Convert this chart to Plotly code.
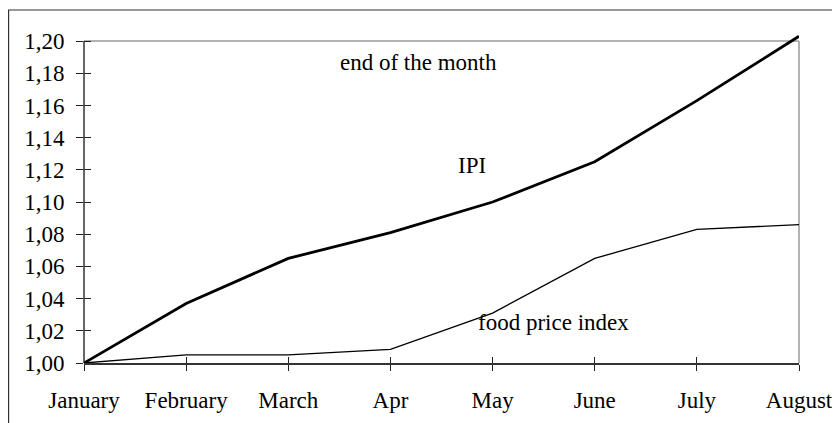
import plotly.graph_objects as go

months = ["January", "February", "March", "Apr", "May", "June", "July", "August"]
ipi = [1.000, 1.037, 1.065, 1.081, 1.100, 1.125, 1.163, 1.203]
food_price_index = [1.000, 1.005, 1.005, 1.0085, 1.031, 1.065, 1.083, 1.086]

FONT = "'Liberation Serif', 'Times New Roman', Times, serif"
FS = 23
YMIN, YTOP, YMAX = 1.00, 1.20, 1.21

# figure is placed by the page with an 8px body margin
W, H = 832, 415
ML, MR, MT, MB = 76, 41, 17, 60
PW, PH = W - ML - MR, H - MT - MB

fig = go.Figure()
fig.add_trace(go.Scatter(x=months, y=ipi, mode="lines", name="IPI",
                         line=dict(color="#000000", width=2.8), xaxis="x", yaxis="y"))
fig.add_trace(go.Scatter(x=months, y=food_price_index, mode="lines", name="food price index",
                         line=dict(color="#000000", width=1.3), xaxis="x2", yaxis="y2"))

common_x = dict(type="category", categoryarray=months, categoryorder="array",
                range=[0, len(months) - 1], showgrid=False, zeroline=False, automargin=False,
                tickcolor="#222222", tickwidth=1.2, ticklen=6)
common_y = dict(range=[YMIN, YMAX], tick0=1.0, dtick=0.02, showgrid=False, zeroline=False,
                automargin=False, tickcolor="#222222", tickwidth=1.2, ticklen=7)

fig.update_layout(
    width=W, height=H,
    margin=dict(l=ML, r=MR, t=MT, b=MB),
    paper_bgcolor="white", plot_bgcolor="white",
    showlegend=False,
    separators=", ",
    font=dict(family=FONT, size=FS, color="#000000"),
    xaxis=dict(**common_x, ticks="outside", showline=True, linecolor="#333333", linewidth=1.5,
               tickfont=dict(family=FONT, size=FS, color="#000000"), ticklabelstandoff=10),
    yaxis=dict(**common_y, ticks="outside", showline=False, tickformat=".2f",
               tickfont=dict(family=FONT, size=FS, color="#000000"), ticklabelstandoff=7),
    xaxis2=dict(**common_x, ticks="inside", overlaying="x", anchor="y2", showticklabels=False,
                showline=False),
    yaxis2=dict(**common_y, ticks="inside", overlaying="y", anchor="x2", showticklabels=False,
                showline=False, tickvals=[1.00 + 0.02 * i for i in range(11)]),
    shapes=[
        # outer chart-area border (left and top edges visible)
        dict(type="rect", xref="paper", yref="paper", x0=(0.6 - ML) / PW, x1=1.2,
             y0=-0.4, y1=(H - MB - 2) / PH, line=dict(color="#333333", width=1.2),
             fillcolor="rgba(0,0,0,0)", layer="below"),
        # plot-area border: top and right in grey
        dict(type="line", xref="paper", yref="y", x0=0, x1=1, y0=YTOP, y1=YTOP,
             line=dict(color="#999999", width=1.5), layer="below"),
        dict(type="line", xref="paper", yref="y", x0=1, x1=1, y0=YMIN, y1=YTOP,
             line=dict(color="#999999", width=1.5), layer="below"),
        # left value axis line
        dict(type="line", xref="paper", yref="y", x0=0, x1=0, y0=YMIN, y1=YTOP,
             line=dict(color="#333333", width=1.5), layer="below"),
    ],
    annotations=[
        dict(text="end of the month", x=3.27, y=1.187, xref="x", yref="y",
             showarrow=False, font=dict(family=FONT, size=FS, color="#000000")),
        dict(text="IPI", x=3.80, y=1.123, xref="x", yref="y",
             showarrow=False, font=dict(family=FONT, size=FS, color="#000000")),
        dict(text="food price index", x=4.60, y=1.025, xref="x", yref="y",
             showarrow=False, font=dict(family=FONT, size=FS, color="#000000")),
    ],
)

fig.write_html("out.html")
